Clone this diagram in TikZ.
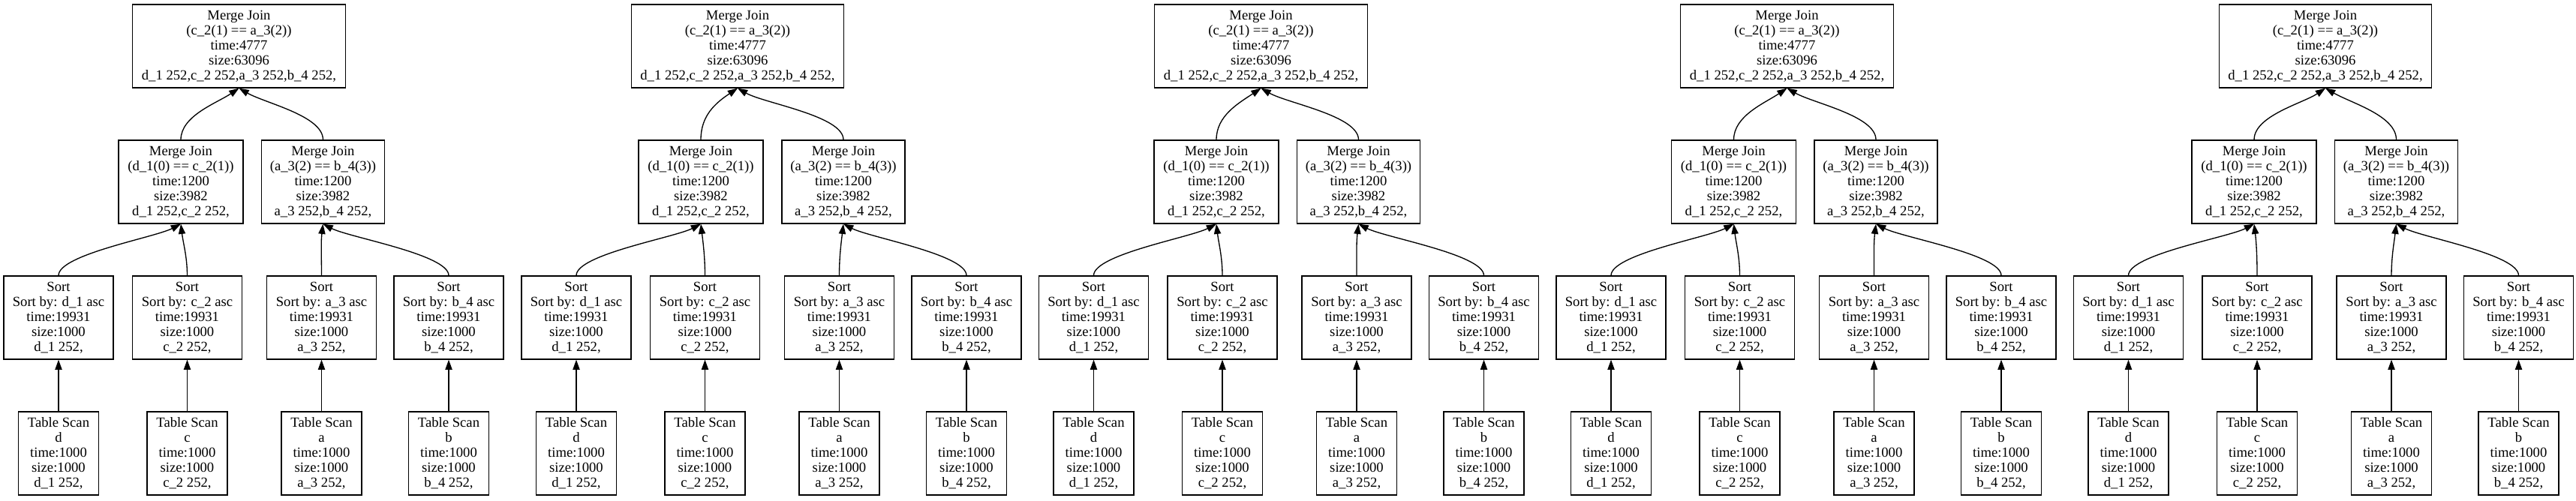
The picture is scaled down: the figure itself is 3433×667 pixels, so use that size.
\documentclass[tikz,border=0pt]{standalone}
\usepackage{fontspec}
\setmainfont{Liberation Serif}
\usetikzlibrary{arrows.meta}
\tikzset{
  box/.style={draw, line width=1.33pt, rectangle, inner sep=0pt, minimum height=111pt,
    align=center, font=\fontsize{18.67}{20}\selectfont},
  topbox/.style={box, minimum width=283.5pt},
  mlbox/.style={box, minimum width=166pt},
  mrbox/.style={box, minimum width=164pt},
  sortbox/.style={box, minimum width=146pt},
  scanbox/.style={box, minimum width=107pt},
  conn/.style={line width=1.33pt, -{Triangle[length=13.3pt,width=9.3pt]}},
}
% #1 prefix, #2 base x, #3 top x, #4 left join x, #5 right join x
\newcommand{\plantree}[5]{
  \node[topbox] (#1top) at (#3,61.5) {Merge Join\\(c\_2(1) == a\_3(2))\\time:4777\\size:63096\\d\_1 252,c\_2 252,a\_3 252,b\_4 252,};
  \node[mlbox] (#1ml) at (#4,242.5) {Merge Join\\(d\_1(0) == c\_2(1))\\time:1200\\size:3982\\d\_1 252,c\_2 252,};
  \node[mrbox] (#1mr) at (#5,242.5) {Merge Join\\(a\_3(2) == b\_4(3))\\time:1200\\size:3982\\a\_3 252,b\_4 252,};
  \node[sortbox] (#1sa) at ({#2+78},423.5) {Sort\\Sort by: d\_1 asc\\time:19931\\size:1000\\d\_1 252,};
  \node[sortbox] (#1sb) at ({#2+249.5},423.5) {Sort\\Sort by: c\_2 asc\\time:19931\\size:1000\\c\_2 252,};
  \node[sortbox] (#1sc) at ({#2+428.5},423.5) {Sort\\Sort by: a\_3 asc\\time:19931\\size:1000\\a\_3 252,};
  \node[sortbox] (#1sd) at ({#2+598},423.5) {Sort\\Sort by: b\_4 asc\\time:19931\\size:1000\\b\_4 252,};
  \node[scanbox] (#1ta) at ({#2+78},604.5) {Table Scan\\d\\time:1000\\size:1000\\d\_1 252,};
  \node[scanbox] (#1tb) at ({#2+249.5},604.5) {Table Scan\\c\\time:1000\\size:1000\\c\_2 252,};
  \node[scanbox] (#1tc) at ({#2+428.5},604.5) {Table Scan\\a\\time:1000\\size:1000\\a\_3 252,};
  \node[scanbox] (#1td) at ({#2+598},604.5) {Table Scan\\b\\time:1000\\size:1000\\b\_4 252,};
  \draw[conn] (#1ta.north) -- (#1sa.south);
  \draw[conn] (#1tb.north) -- (#1sb.south);
  \draw[conn] (#1tc.north) -- (#1sc.south);
  \draw[conn] (#1td.north) -- (#1sd.south);
  \draw[conn] (#1sa.north) .. controls +(0,-28) and +(-35,18) .. (#1ml.south);
  \draw[conn] (#1sb.north) .. controls +(0,-25) and +(3,25) .. (#1ml.south);
  \draw[conn] (#1sc.north) .. controls +(0,-25) and +(-3,25) .. (#1mr.south);
  \draw[conn] (#1sd.north) .. controls +(0,-28) and +(35,18) .. (#1mr.south);
  \draw[conn] (#1ml.north) .. controls +(0,-32) and +(-30,20) .. (#1top.south);
  \draw[conn] (#1mr.north) .. controls +(0,-32) and +(35,20) .. (#1top.south);
}
\begin{document}
\begin{tikzpicture}[x=1pt, y=-1pt]
  \fill[white] (0,0) rectangle (3433,667);
  \useasboundingbox (0,0) rectangle (3433,667);
  \plantree{a}{0}{318.5}{241}{430.5}
  \plantree{b}{690}{983}{934}{1124}
  \plantree{c}{1379.5}{1680.5}{1621}{1810.5}
  \plantree{d}{2069}{2381.5}{2310.5}{2500}
  \plantree{e}{2758.5}{3099}{3004}{3193.5}
\end{tikzpicture}
\end{document}
